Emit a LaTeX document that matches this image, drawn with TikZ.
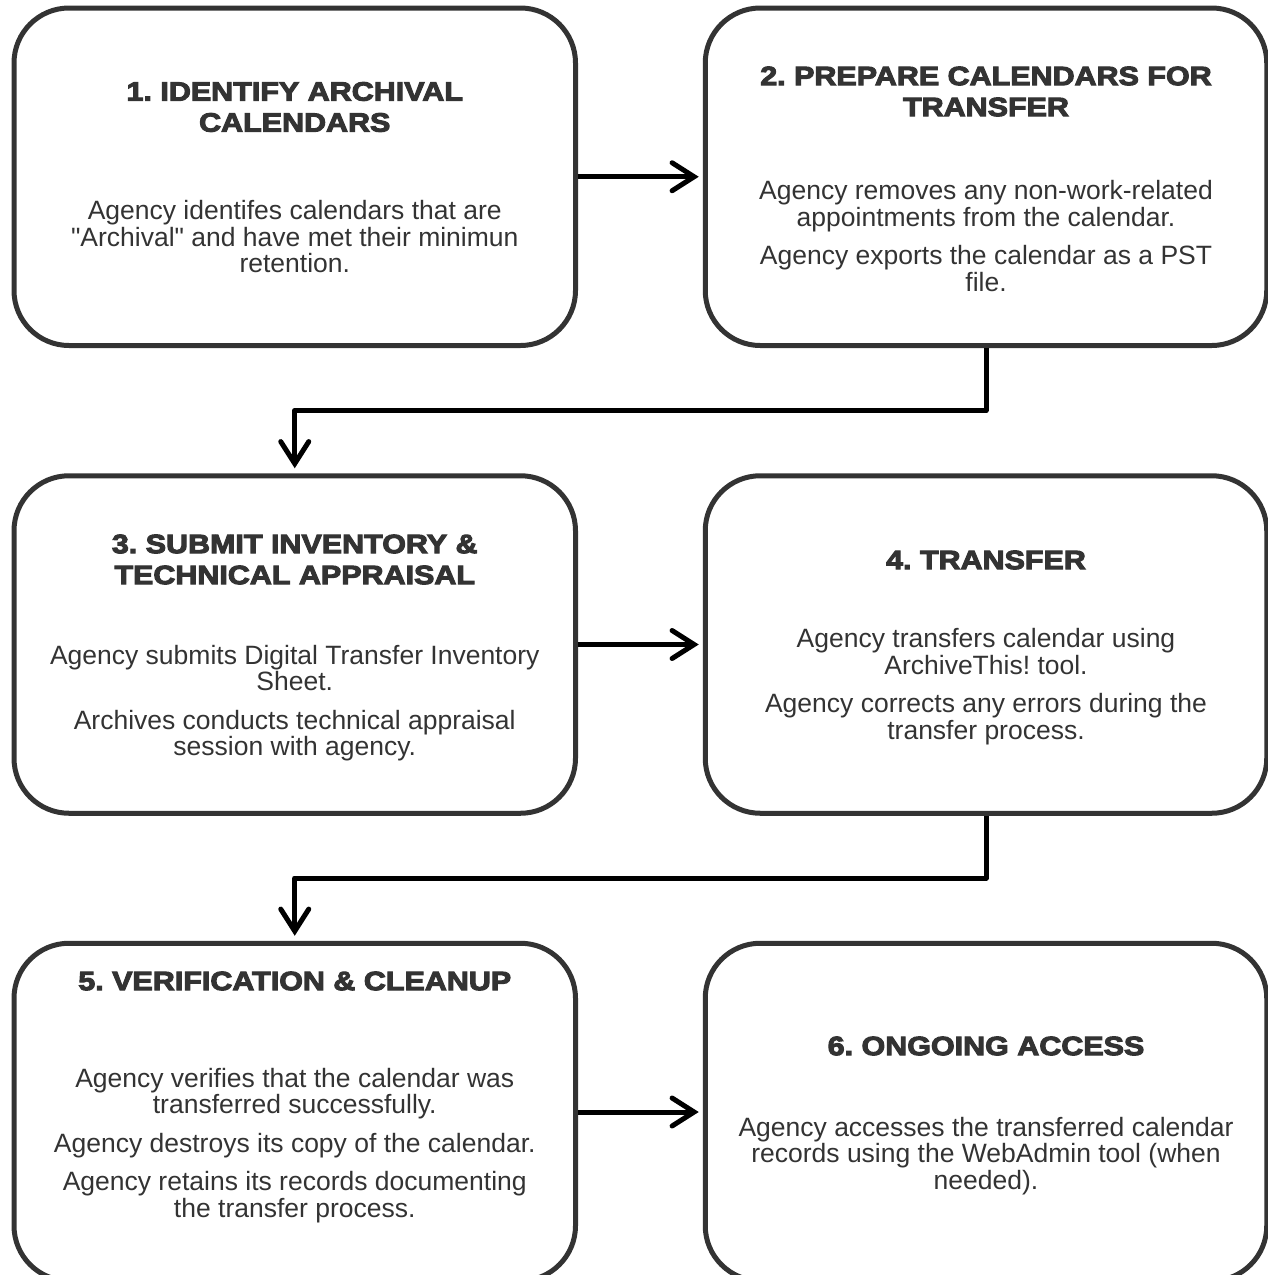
\documentclass[tikz,border=0pt]{standalone}
\usepackage{fontspec}
\setmainfont{Liberation Sans}
\newfontfamily\titlefont[FakeStretch=1.15,FakeBold=4]{Liberation Sans Bold}
\font\quotefnt="Liberation Sans" at 26.5pt
\newcommand\sq{{\quotefnt "}}
\usetikzlibrary{arrows.meta}
\definecolor{ink}{HTML}{333333}
\frenchspacing
\tikzset{
  box/.style={draw=ink, line width=5pt, rounded corners=55pt, minimum width=561.5pt, minimum height=337.5pt, inner sep=0pt},
  ttl/.style={text=ink, align=center, inner sep=0pt, font=\titlefont\fontsize{26.5}{31}\selectfont},
  bodytext/.style={text=ink, align=center, inner sep=0pt, font=\fontsize{26.5}{26.5}\selectfont},
  arr/.style={line width=5pt, line join=round, -{Straight Barb[length=22pt,width=28pt,line cap=round]}}
}
\begin{document}
\begin{tikzpicture}[x=1pt,y=-1pt]
\useasboundingbox (0,0) rectangle (1268,1275);
% boxes
\node[box] (b1) at (294.75,176.75) {};
\node[box] (b2) at (986,176.75) {};
\node[box] (b3) at (294.75,644.5) {};
\node[box] (b4) at (986,644.5) {};
\node[box] (b5) at (294.75,1112) {};
\node[box] (b6) at (986,1112) {};
% texts
\node[ttl] (t1) at (294.75,107) {1. IDENTIFY ARCHIVAL\\CALENDARS};
\node[bodytext] (x1) at (294.75,237) {Agency identifes calendars that are\\\sq Archival\sq{} and have met their minimun\\retention.};
\node[ttl] (t2) at (986,91.5) {2. PREPARE CALENDARS FOR\\TRANSFER};
\node[bodytext] (x2) at (986,236) {Agency removes any non-work-related\\appointments from the calendar.\\[12pt]Agency exports the calendar as a PST\\file.};
\node[ttl] (t3) at (294.75,559.5) {3. SUBMIT INVENTORY \&\\TECHNICAL APPRAISAL};
\node[bodytext] (x3) at (294.75,703) {Agency submits Digital Transfer Inventory\\Sheet.\\[12pt]Archives conducts technical appraisal\\session with agency.};
\node[ttl] (t4) at (986,560) {4. TRANSFER};
\node[bodytext] (x4) at (986,686.5) {Agency transfers calendar using\\ArchiveThis! tool.\\[12pt]Agency corrects any errors during the\\transfer process.};
\node[ttl] (t5) at (294.75,981) {5. VERIFICATION \& CLEANUP};
\node[bodytext] (x5) at (294.75,1145.5) {Agency verifies that the calendar was\\transferred successfully.\\[12pt]Agency destroys its copy of the calendar.\\[12pt]Agency retains its records documenting\\the transfer process.};
\node[ttl] (t6) at (986,1046) {6. ONGOING ACCESS};
\node[bodytext] (x6) at (986,1156) {Agency accesses the transferred calendar\\records using the WebAdmin tool (when\\needed).};
% connectors
\coordinate (m1) at (0,410.5);
\coordinate (m2) at (0,878);
\draw[arr, shorten >=4pt] (b1.east) -- (b2.west);
\draw[arr, shorten >=4pt] (b3.east) -- (b4.west);
\draw[arr, shorten >=4pt] (b5.east) -- (b6.west);
\draw[arr, shorten >=5pt] (b2.south) -- (b2.south |- m1) -- (b3.north |- m1) -- (b3.north);
\draw[arr, shorten >=5pt] (b4.south) -- (b4.south |- m2) -- (b5.north |- m2) -- (b5.north);
\end{tikzpicture}
\end{document}
